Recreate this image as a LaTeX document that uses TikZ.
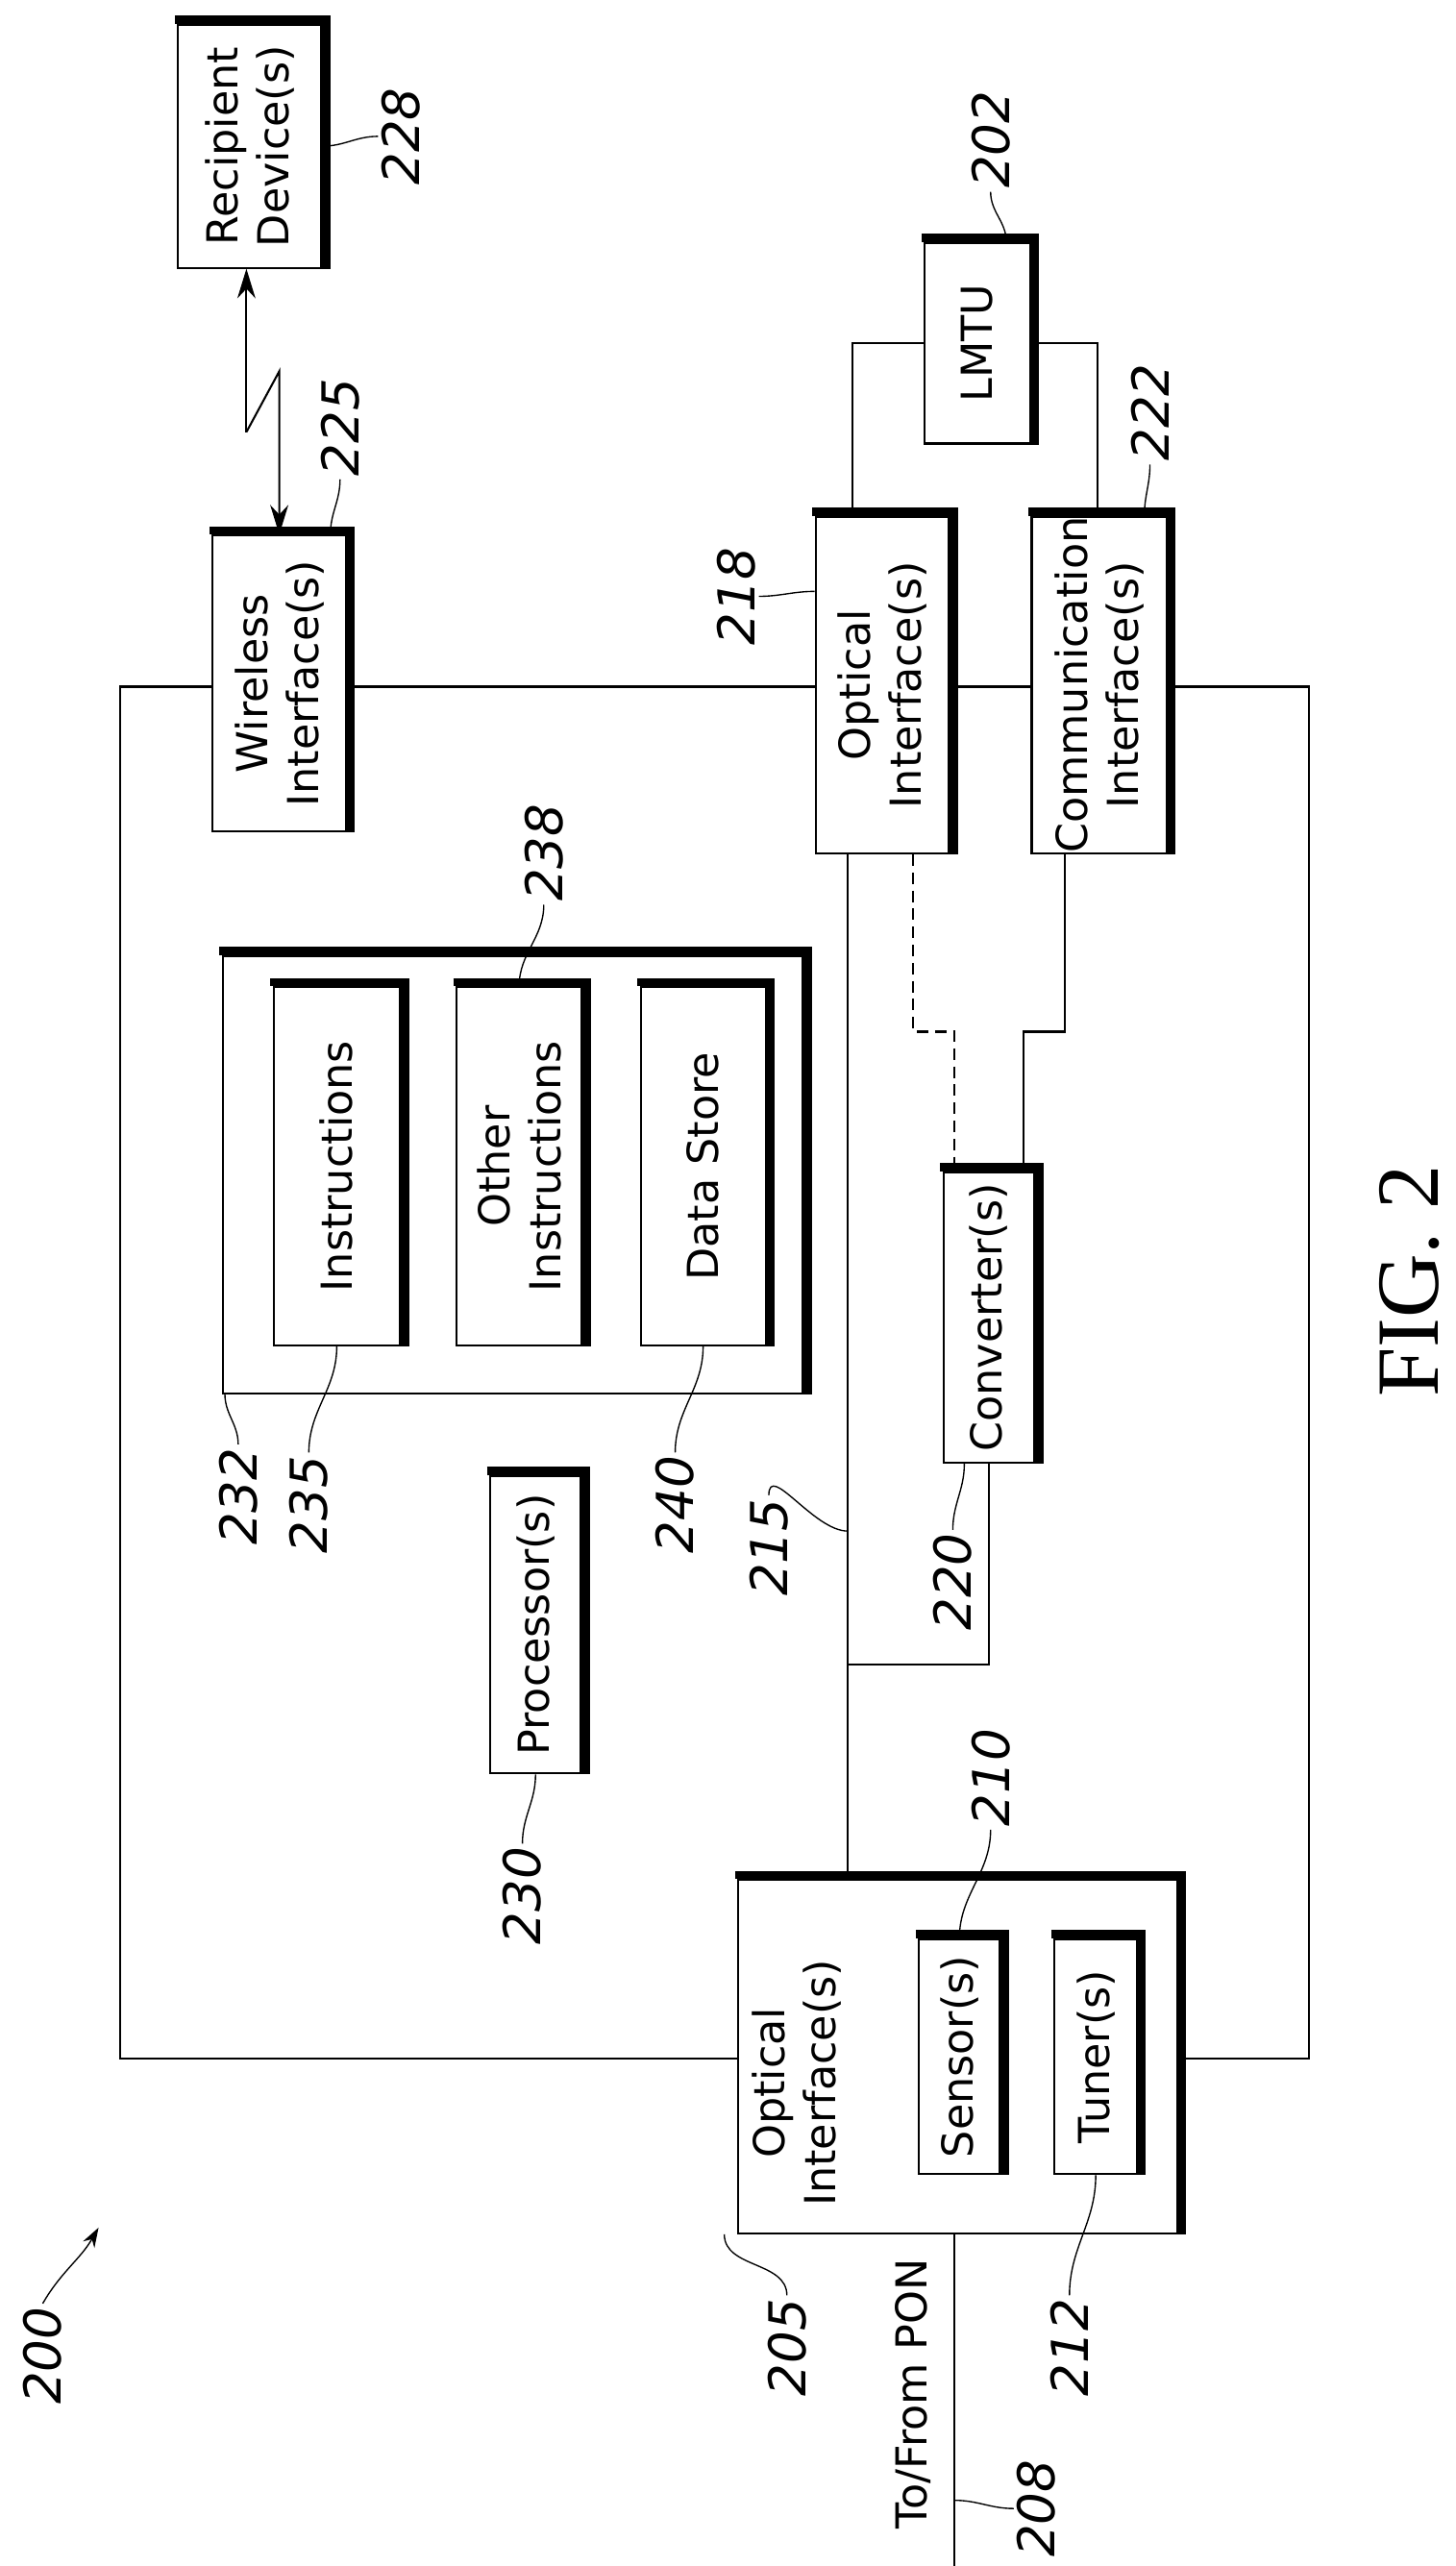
\documentclass[tikz,border=0pt]{standalone}
\usepackage{fontspec}
\setmainfont{DejaVu Sans}
\newfontfamily\figfont{Liberation Serif}
\usetikzlibrary{arrows.meta}
\tikzset{
  box/.style={draw,line width=1.2pt,fill=white,inner sep=0pt},
  shade/.style={line width=5pt,line cap=butt},
  txt/.style={rotate=90,align=center,font=\fontsize{26}{31}\selectfont},
  num/.style={rotate=90,inner sep=2pt,font=\fontsize{31}{33}\selectfont\itshape},
  lead/.style={line width=0.8pt},
  wire/.style={line width=1.2pt}
}
\newcommand{\shadebox}[1]{%
  \draw[shade] ([xshift=-1.5pt,yshift=2.5pt]#1.north west) -- ([xshift=2.5pt,yshift=2.5pt]#1.north east)
    -- ([xshift=2.5pt]#1.south east);}
\begin{document}
\begin{tikzpicture}[x=1pt,y=-1pt]
  \useasboundingbox (0,0) rectangle (886,1562);
  % outer frame
  \draw[wire] (73,418) rectangle (797,1253);

  % boxes
  \node[box,minimum width=87,minimum height=148] (rd) at (152,89) {};
  \node[box,minimum width=81,minimum height=180] (wi) at (170,416) {};
  \node[box,minimum width=81,minimum height=205] (oib) at (537,417) {};
  \node[box,minimum width=82,minimum height=205] (ci) at (669,417) {};
  \node[box,minimum width=64,minimum height=122] (lmtu) at (595,209) {};
  \node[box,minimum width=353,minimum height=266] (mem) at (312,715) {};
  \node[box,minimum width=77,minimum height=218] (ins) at (205,710) {};
  \node[box,minimum width=76,minimum height=218] (oth) at (316,710) {};
  \node[box,minimum width=76,minimum height=218] (dat) at (428,710) {};
  \node[box,minimum width=55,minimum height=177] (conv) at (602,802) {};
  \node[box,minimum width=55,minimum height=181] (proc) at (326,989) {};
  \node[box,minimum width=267,minimum height=215] (oia) at (583,1252) {};
  \node[box,minimum width=49,minimum height=143] (sen) at (584,1252) {};
  \node[box,minimum width=50,minimum height=143] (tun) at (667,1252) {};
  \foreach \n in {rd,wi,oib,ci,lmtu,mem,ins,oth,dat,conv,proc,oia,sen,tun}
    {\shadebox{\n}}

  % texts
  \node[txt] at (rd) {Recipient\\Device(s)};
  \node[txt] at (wi) {Wireless\\Interface(s)};
  \node[txt] at (oib) {Optical\\Interface(s)};
  \node[txt] at (ci) {Communication\\Interface(s)};
  \node[txt] at (lmtu) {LMTU};
  \node[txt] at (ins) {Instructions};
  \node[txt] at (oth) {Other\\Instructions};
  \node[txt] at (dat) {Data Store};
  \node[txt] at (conv) {Converter(s)};
  \node[txt] at (proc) {Processor(s)};
  \node[txt] at (sen) {Sensor(s)};
  \node[txt] at (tun) {Tuner(s)};
  \node[txt] at (485,1268) {Optical\\Interface(s)};
  \node[txt] (pon) at (556,1457) {To/From PON};
  \node[rotate=90,font=\figfont\fontsize{54}{54}\selectfont] (fig) at (858,780) {FIG. 2};

  % wiring
  \coordinate (zz1) at (150,263);
  \coordinate (zz2) at (170,226);
  \draw[wire,-{Stealth[length=18pt,width=11pt]}] (zz1) -- (rd.south -| zz1);
  \draw[wire,-{Stealth[length=18pt,width=11pt]}] (zz1) -- (zz2) -- (wi.north -| zz2);
  \draw[wire] ([xshift=-18pt]oib.north) |- (lmtu.west);
  \draw[wire] (lmtu.east) -| ([xshift=-1pt]ci.north);
  \draw[wire] ([xshift=-21pt]oib.south) -- ([xshift=-21pt]oib.south |- oia.north);
  \coordinate (br) at (516,1013);
  \draw[wire] (br) -| (conv.south);
  \draw[wire,dash pattern=on 7pt off 4pt] ([xshift=19pt]oib.south) |- (581,628) -- (581,713);
  \draw[wire] ([xshift=-21pt]ci.south) |- (623,628) -- (623,713);
  \draw[wire] (oia.south -| 581,0) -- (581,1562);

  % reference numerals
  \node[num] (n228) at (244,83) {228};
  \node[num] (n225) at (207,260) {225};
  \node[num] (n202) at (603,85) {202};
  \node[num] (n222) at (700,251) {222};
  \node[num] (n218) at (448,363) {218};
  \node[num] (n238) at (331,519) {238};
  \node[num] (n232) at (145,911) {232};
  \node[num] (n235) at (188,916) {235};
  \node[num] (n240) at (411,916) {240};
  \node[num] (n215) at (468,942) {215};
  \node[num] (n220) at (580,963) {220};
  \node[num] (n230) at (318,1154) {230};
  \node[num] (n210) at (603,1082) {210};
  \node[num] (n205) at (479,1429) {205};
  \node[num] (n212) at (651,1429) {212};
  \node[num] (n208) at (631,1527) {208};
  \node[num] (n200) at (26,1434) {200};

  % leaders
  \draw[lead] (n228.north) to[out=180,in=0] (rd.east |- 0,89);
  \draw[lead] (n225.west) to[out=-90,in=90] ([xshift=-10pt]wi.north east);
  \draw[lead] (n202.west) to[out=-90,in=90] ([xshift=-15pt]lmtu.north east);
  \draw[lead] (n222.west) to[out=-90,in=90] ([xshift=-14pt]ci.north east);
  \draw[lead] (n218.south) to[out=0,in=180] (oib.west |- 0,360);
  \draw[lead] (n238.west) to[out=-90,in=90] (oth.north);
  \draw[lead] (n232.east) to[out=90,in=-90] ([xshift=2pt]mem.south west);
  \draw[lead] (n235.east) to[out=90,in=-90] (ins.south);
  \draw[lead] (n240.east) to[out=90,in=-90] (dat.south);
  \draw[lead] (n215.east) to[out=90,in=180] (516,932);
  \draw[lead] (n220.east) to[out=90,in=-90] ([xshift=-15pt]conv.south);
  \draw[lead] (n230.east) to[out=90,in=-90] (proc.south);
  \draw[lead] (n210.west) to[out=-90,in=90] (sen.north);
  \draw[lead] (n205.east) to[out=90,in=-90] ([xshift=-8pt]oia.south west);
  \draw[lead] (n212.east) to[out=90,in=-90] (tun.south);
  \draw[lead] (n208.north) to[out=180,in=0] (581,1522);
  \draw[lead,-{Stealth[length=12pt,width=8pt]}] (n200.east) to[out=60,in=-120] (60,1356);
\end{tikzpicture}
\end{document}
